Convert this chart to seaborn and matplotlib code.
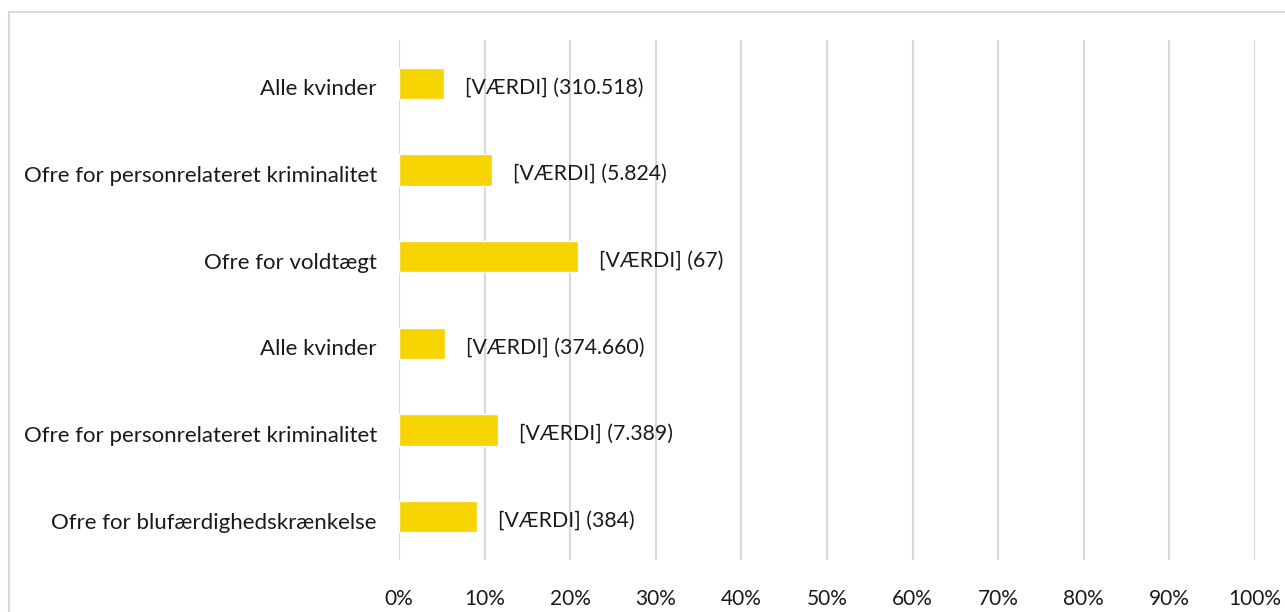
import pandas as pd
import matplotlib
matplotlib.use('Agg')
import matplotlib.pyplot as plt
import matplotlib.transforms as mtransforms
import seaborn as sns
from matplotlib.patches import Rectangle
from matplotlib.ticker import PercentFormatter

# data (share in %)
grupper = ['Alle kvinder',
           'Ofre for personrelateret kriminalitet',
           'Ofre for voldtægt',
           'Alle kvinder',
           'Ofre for personrelateret kriminalitet',
           'Ofre for blufærdighedskrænkelse']
andel = [5.25, 10.9, 20.9, 5.4, 11.6, 9.15]
antal = ['310.518', '5.824', '67', '374.660', '7.389', '384']

sns.set_theme(style='white')
plt.rcParams['font.family'] = ['Lato', 'DejaVu Sans']

df = pd.DataFrame({'nr': [str(i) for i in range(len(grupper))],
                   'gruppe': grupper, 'andel': andel})

W, H = 1285, 612
fig = plt.figure(figsize=(W / 100, H / 100), dpi=100)
ax = fig.add_axes([399 / W, 1 - 560 / H, (1255 - 399) / W, (560 - 40) / H])

sns.barplot(data=df, y='nr', x='andel', orient='h', color='#F5D400',
            saturation=1, width=0.36, ax=ax)

ax.set_xlim(0, 100)
ax.set_xticks(range(0, 101, 10))
ax.xaxis.set_major_formatter(PercentFormatter(decimals=0))
ax.set_yticklabels(grupper)
ax.set_xlabel('')
ax.set_ylabel('')
ax.grid(axis='x', color='#D9D9D9', linewidth=1.5)
ax.set_axisbelow(True)
for s in ax.spines.values():
    s.set_visible(False)
ax.tick_params(axis='x', length=0, pad=21, labelsize=15, colors='#1a1a1a')
ax.tick_params(axis='y', length=0, pad=16, labelsize=16, colors='#1a1a1a')

# excel puts the text a little below the bar centre
shift = mtransforms.ScaledTranslation(0, -4 / 100, fig.dpi_scale_trans)
for lab in ax.get_yticklabels():
    lab.set_transform(lab.get_transform() + shift)

for i, (v, n) in enumerate(zip(andel, antal)):
    ax.annotate(f'[VÆRDI] ({n})', xy=(v, i), xytext=(21, -4),
                textcoords='offset pixels', va='center', ha='left',
                fontsize=15.3, color='#1a1a1a')

# chart border like the original
fig.patches.append(Rectangle((9 / W, -0.1), 1.2, 1.1 - 12 / H,
                             transform=fig.transFigure, fill=False,
                             edgecolor='#D9D9D9', linewidth=1.5))

fig.savefig('out.png', dpi=100)
